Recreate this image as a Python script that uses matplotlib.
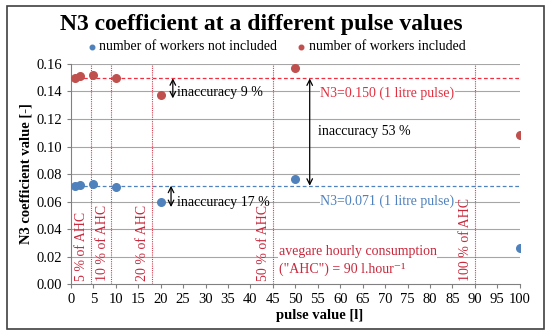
import matplotlib.pyplot as plt
from matplotlib.patches import Rectangle

plt.rcParams['font.family'] = ['Liberation Serif', 'DejaVu Serif']

# pulse values [l]
pulse = [1, 2, 5, 10, 20, 50, 100]
# N3 coefficient, number of workers not included
n3_not_incl = [0.0715, 0.072, 0.0727, 0.0708, 0.0594, 0.0766, 0.026]
# N3 coefficient, number of workers included
n3_incl = [0.1495, 0.151, 0.1518, 0.150, 0.1377, 0.157, 0.1086]

ref_incl = 0.150
ref_not_incl = 0.071

# AHC share lines (90 l/hour)
ahc_pos = [4.5, 9, 18, 45, 90]
ahc_labels = ['5 % of AHC', '10 % of AHC', '20 % of AHC', '50 % of AHC', '100 % of AHC']

blue = '#4F81BD'
red = '#C0504D'
txt_red = '#C8283C'

fig = plt.figure(figsize=(5.5, 3.35), dpi=100)
ax = fig.add_axes([0.129, 0.152, 0.816, 0.657])

for y in [0.02, 0.04, 0.06, 0.08, 0.10, 0.12, 0.14, 0.16]:
    ax.axhline(y, color='#A6A6A6', lw=0.8, zorder=0)

ax.plot([0, 100], [ref_incl, ref_incl], color='#F03040', lw=0.9, ls=(0, (3, 2)), zorder=1)
ax.plot([0, 100], [ref_not_incl, ref_not_incl], color=blue, lw=0.9, ls=(0, (3, 2)), zorder=1)

for xp, lab in zip(ahc_pos, ahc_labels):
    ax.axvline(xp, color='#D04050', lw=0.8, ls=(0, (1, 1)), zorder=1)
    ax.text(xp - 0.6, 0.002, lab, rotation=90, ha='right', va='bottom',
            color=txt_red, fontsize=10)

ax.scatter(pulse, n3_not_incl, s=30, color=blue, zorder=3,
           label='number of workers not included')
ax.scatter(pulse, n3_incl, s=30, color=red, zorder=3,
           label='number of workers included')

bbox = dict(facecolor='white', edgecolor='none', pad=0.5)
ax.text(70.5, 0.139, 'N3=0.150 (1 litre pulse)', color='#E03040', fontsize=10,
        ha='center', va='center', bbox=bbox)
ax.text(70.5, 0.060, 'N3=0.071 (1 litre pulse)', color=blue, fontsize=10,
        ha='center', va='center', bbox=bbox)

arrow = dict(arrowstyle='<->', color='black', lw=0.9, shrinkA=0, shrinkB=0)
ax.annotate('', xy=(53.2, 0.1495), xytext=(53.2, 0.0715), arrowprops=arrow)
ax.text(55, 0.111, 'inaccuracy 53 %', fontsize=10, va='center')
ax.annotate('', xy=(22.7, 0.1496), xytext=(22.7, 0.135), arrowprops=arrow)
ax.text(23.6, 0.139, 'inaccuracy 9 %', fontsize=10, va='center')
ax.annotate('', xy=(22.3, 0.0715), xytext=(22.3, 0.056), arrowprops=arrow)
ax.text(23.6, 0.0595, 'inaccuracy 17 %', fontsize=10, va='center')

ax.text(46.3, 0.017, 'avegare hourly consumption\n("AHC") = 90 l.hour\u207b\u00b9',
        color=txt_red, fontsize=10, va='center', ha='left', linespacing=1.4,
        bbox=bbox)

ax.set_xlim(0, 100)
ax.set_ylim(0, 0.16)
ax.set_xticks(range(0, 101, 5))
ax.set_yticks([0.00, 0.02, 0.04, 0.06, 0.08, 0.10, 0.12, 0.14, 0.16])
ax.set_yticklabels(['%.2f' % v for v in ax.get_yticks()])
ax.tick_params(labelsize=10.5, length=3, color='#808080')
for s in ['top', 'right']:
    ax.spines[s].set_visible(False)
for s in ['left', 'bottom']:
    ax.spines[s].set_color('#808080')
    ax.spines[s].set_linewidth(0.8)

ax.set_xlabel('pulse value [l]', fontsize=10.5, fontweight='bold', labelpad=1)
ax.xaxis.set_label_coords(0.555, -0.115)
ax.set_ylabel('N3 coefficient value [-]', fontsize=10.5, fontweight='bold', labelpad=3)

fig.suptitle('N3 coefficient at a different pulse values', fontsize=17,
             fontweight='bold', x=0.475, y=0.958)
fig.legend(loc='center', bbox_to_anchor=(0.5, 0.86), ncol=2, frameon=False,
           fontsize=10, handletextpad=0.05, columnspacing=1.2, markerscale=0.6,
           handlelength=1)

fig.patches.append(Rectangle((0.013, 0.018), 0.976, 0.964, transform=fig.transFigure,
                             fill=False, edgecolor='#404040', lw=1.2))

fig.savefig('out.png', dpi=100)
